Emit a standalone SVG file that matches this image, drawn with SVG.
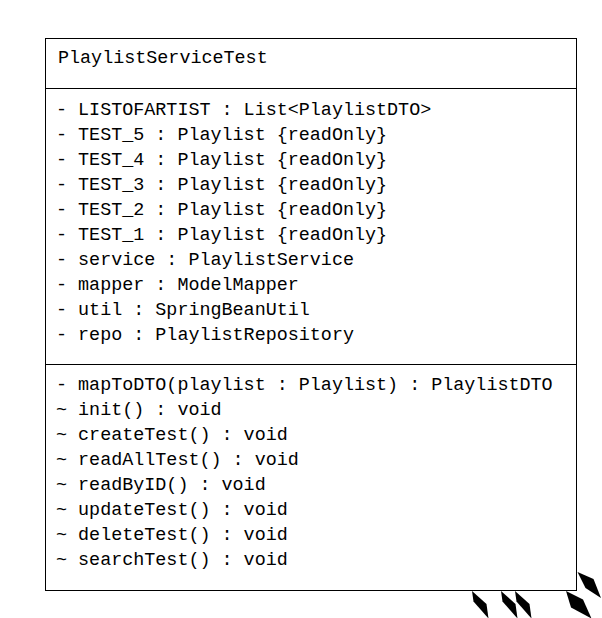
<svg xmlns="http://www.w3.org/2000/svg" width="602" height="618" viewBox="0 0 602 618">
  <style>
    .box { fill: #ffffff; stroke: #000000; stroke-width: 1; }
    .sep { stroke: #000000; stroke-width: 1; }
    .t { font-family: "Liberation Mono", "Courier New", monospace; font-size: 18.4px; fill: #000000; white-space: pre; }
    .dia { fill: #000000; stroke: none; }
  </style>
  <rect width="602" height="618" fill="#ffffff"/>

  <!-- class: PlaylistServiceTest -->
  <g id="PlaylistServiceTest">
    <rect class="box" x="45.5" y="38.5" width="531" height="552"/>
    <line class="sep" x1="45" y1="88.5" x2="577" y2="88.5"/>
    <line class="sep" x1="45" y1="364.5" x2="577" y2="364.5"/>
    <text class="t" x="58" y="63">PlaylistServiceTest</text>
    <!-- attributes -->
    <text class="t" x="56" y="115">- LISTOFARTIST : List&lt;PlaylistDTO&gt;</text>
    <text class="t" x="56" y="140">- TEST_5 : Playlist {readOnly}</text>
    <text class="t" x="56" y="165">- TEST_4 : Playlist {readOnly}</text>
    <text class="t" x="56" y="190">- TEST_3 : Playlist {readOnly}</text>
    <text class="t" x="56" y="215">- TEST_2 : Playlist {readOnly}</text>
    <text class="t" x="56" y="240">- TEST_1 : Playlist {readOnly}</text>
    <text class="t" x="56" y="265">- service : PlaylistService</text>
    <text class="t" x="56" y="290">- mapper : ModelMapper</text>
    <text class="t" x="56" y="315">- util : SpringBeanUtil</text>
    <text class="t" x="56" y="340">- repo : PlaylistRepository</text>
    <!-- operations -->
    <text class="t" x="56" y="390">- mapToDTO(playlist : Playlist) : PlaylistDTO</text>
    <text class="t" x="56" y="415">~ init() : void</text>
    <text class="t" x="56" y="440">~ createTest() : void</text>
    <text class="t" x="56" y="465">~ readAllTest() : void</text>
    <text class="t" x="56" y="490">~ readByID() : void</text>
    <text class="t" x="56" y="515">~ updateTest() : void</text>
    <text class="t" x="56" y="540">~ deleteTest() : void</text>
    <text class="t" x="56" y="565">~ searchTest() : void</text>
  </g>

  <!-- association ends (aggregation diamonds) -->
  <g id="connectors">
    <polygon class="dia" points="472,591 486.5,604 488.5,618.5 473.5,601.5"/>
    <polygon class="dia" points="501,591 515.5,604 517.5,618.5 502.5,601.5"/>
    <polygon class="dia" points="515,591 529.5,604 531.5,618.5 516.5,601.5"/>
    <polygon class="dia" points="566,591 583,599.5 591.5,618.5 571,607.5"/>
    <polygon class="dia" points="577.5,572 593.5,579 601,598 585.5,588"/>
  </g>
</svg>
